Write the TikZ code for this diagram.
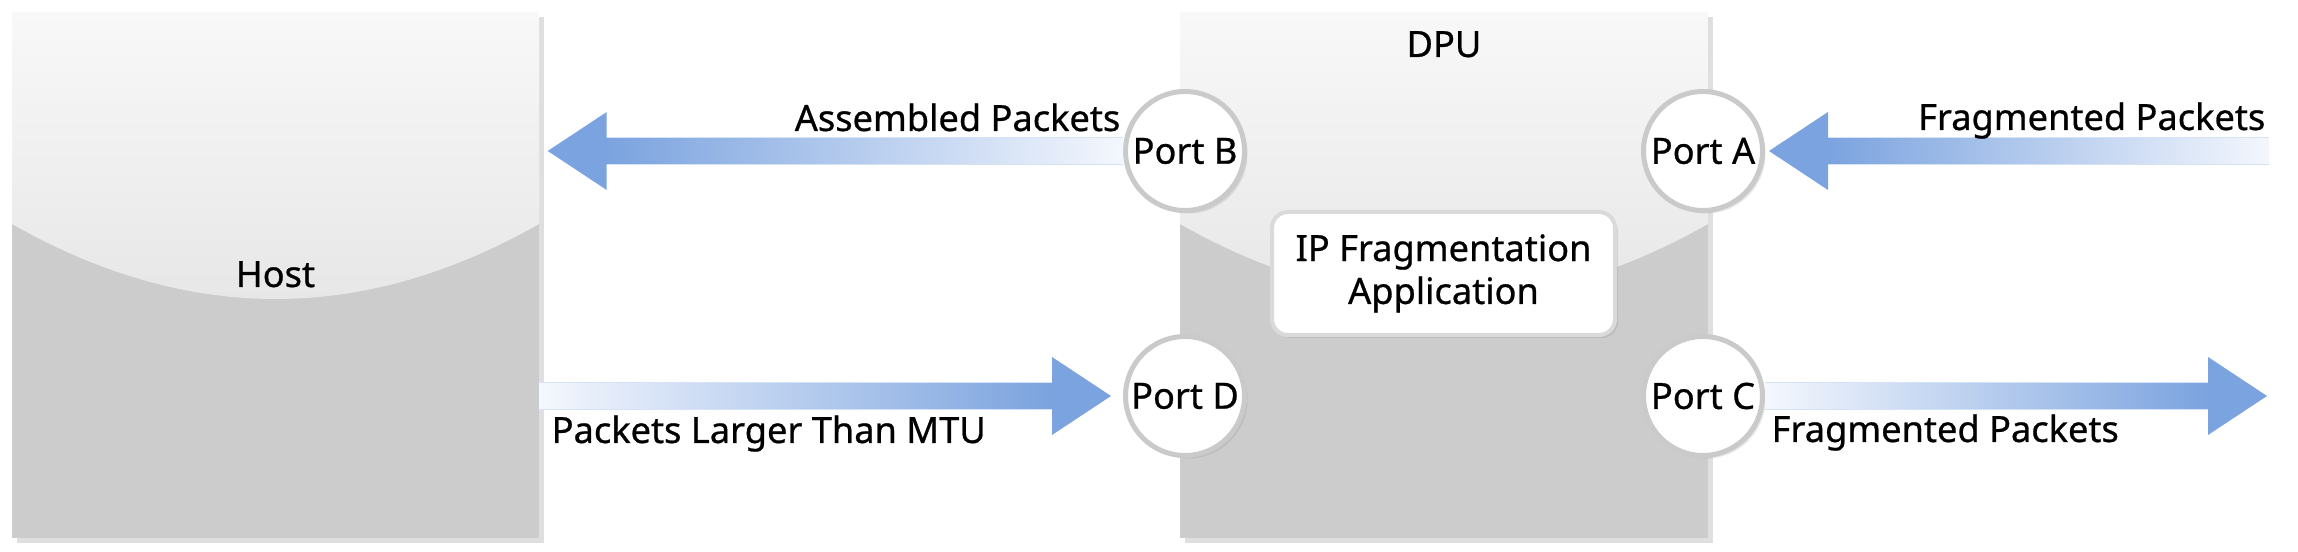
\documentclass[tikz,border=0pt]{standalone}
\usepackage{fontspec}
\setmainfont{Noto Sans}[FakeBold=0.7]
\usetikzlibrary{positioning,calc,shadows}
\definecolor{fgazul}{HTML}{7BA3DF}
\definecolor{fgazulclaro}{HTML}{F4F7FD}
\definecolor{fgborda}{HTML}{D5E1F5}
\definecolor{fgcinza}{HTML}{CCCCCC}
\definecolor{fgtopo}{HTML}{F8F8F8}
\definecolor{fgmeio}{HTML}{D9D9D9}
\definecolor{fganel}{HTML}{CACACA}
\definecolor{fgmoldura}{HTML}{DADADA}
\tikzset{
  fgchassi/.style={fill=fgcinza, inner sep=0pt, minimum height=52.6mm,
                  drop shadow={shadow xshift=0.5mm, shadow yshift=-0.5mm, opacity=0.25},
                  path picture={\shade[top color=fgtopo, bottom color=fgmeio]
                    (path picture bounding box.north west)
                    -- ([yshift=-21.2mm]path picture bounding box.north west)
                    .. controls +(17.6mm,-10mm) and +(-17.6mm,-10mm) .. ([yshift=-21.2mm]path picture bounding box.north east)
                    -- (path picture bounding box.north east) -- cycle;}},
  fgporta/.style={circle, draw=fganel, line width=0.5mm, fill=white, minimum size=11.9mm,
                  inner sep=0pt, drop shadow={shadow xshift=0.3mm, shadow yshift=-0.3mm, opacity=0.2}},
  fgapp/.style={draw=fgmoldura, line width=0.4mm, fill=white, rounded corners=1.6mm, align=center,
                  minimum width=34.3mm, minimum height=12.3mm, inner sep=0pt,
                  drop shadow={shadow xshift=0.3mm, shadow yshift=-0.3mm, opacity=0.2}},
  fgrotulo/.style={inner sep=0pt},
  fgfio/.style={draw=fgborda, line width=0.15mm},
}
% seta larga com gradiente: cauda, ponta, cores
\newcommand{\fgseta}[3]{%
  \coordinate (fgbase) at ($(#2)!5.9mm!(#1)$);
  \shade[#3] ($(#1)+(0,1.35mm)$) rectangle ($(fgbase)+(0,-1.35mm)$);
  \draw[fgfio] ($(#1)+(0,1.35mm)$) -- ($(fgbase)+(0,1.35mm)$) ($(#1)+(0,-1.35mm)$) -- ($(fgbase)+(0,-1.35mm)$);
  \fill[fgazul] ($(fgbase)+(0,3.9mm)$) -- (#2) -- ($(fgbase)+(0,-3.9mm)$) -- cycle;}

\begin{document}
\begin{tikzpicture}[x=0.1mm, y=-0.1mm, font=\fontsize{10.3}{12.2}\selectfont]
  \useasboundingbox (0,0) rectangle (2298,552);
  % ---------------- host e DPU ----------------
  \node[fgchassi, minimum width=52.7mm] (host) at (275.5,275) {};
  \node[fgchassi, minimum width=52.8mm] (dpu) at (1444,275) {};
  \node[fgrotulo, anchor=base] (hostrot) at (275.5,287) {Host};
  \node[fgrotulo, anchor=base] (dpurot) at (1444,57) {DPU};
  \node[fgapp] (app) at (1443.5,273.5) {IP Fragmentation\\ Application};
  % ---------------- portas ----------------
  \node[fgporta] (portB) at (1185,151) {Port B};
  \node[fgporta] (portA) at (1703,151) {Port A};
  \node[fgporta] (portD) at (1185,396) {Port D};
  \node[fgporta] (portC) at (1703,396) {Port C};
  % ---------------- setas ----------------
  \coordinate (pontaB) at ([xshift=0.8mm]host.east |- portB);
  \coordinate (origemA) at (2269,151);
  \coordinate (pontaA) at ([xshift=0.4mm]portA.east);
  \coordinate (origemD) at (host.east |- portD);
  \coordinate (pontaD) at ([xshift=-1.2mm]portD.west);
  \coordinate (pontaC) at (2267,396);
  \fgseta{portB.west}{pontaB}{left color=fgazul, right color=fgazulclaro}
  \fgseta{origemA}{pontaA}{left color=fgazul, right color=fgazulclaro}
  \fgseta{origemD}{pontaD}{left color=fgazulclaro, right color=fgazul}
  \fgseta{portC.east}{pontaC}{left color=fgazulclaro, right color=fgazul}
  % ---------------- rotulos ----------------
  \node[fgrotulo, anchor=base east] (rotB) at (1121,131) {Assembled Packets};
  \node[fgrotulo, anchor=base east] (rotA) at (2266,130) {Fragmented Packets};
  \node[fgrotulo, anchor=base west] (rotD) at (551,443) {Packets Larger Than MTU};
  \node[fgrotulo, anchor=base west] (rotC) at (1771,442) {Fragmented Packets};
\end{tikzpicture}
\end{document}
